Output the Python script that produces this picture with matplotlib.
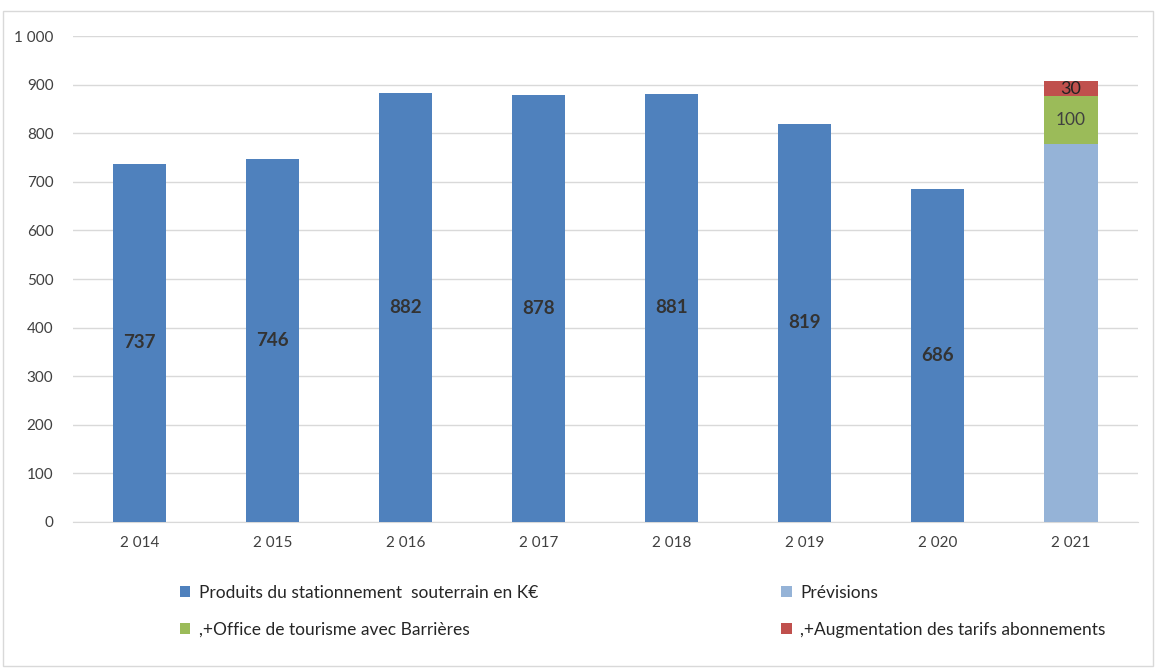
import matplotlib.pyplot as plt
from matplotlib.patches import Rectangle
from matplotlib.ticker import FuncFormatter

plt.rcParams['font.family'] = ['Lato', 'DejaVu Sans']

# Data
years = ["2 014", "2 015", "2 016", "2 017", "2 018", "2 019", "2 020", "2 021"]
produits = [737, 746, 882, 878, 881, 819, 686, None]
previsions = 777
office = 100
augmentation = 30

blue = '#4F81BD'
light_blue = '#95B3D7'
green = '#9BBB59'
red = '#C0504D'

fig = plt.figure(figsize=(11.56, 6.68), dpi=100)
ax = fig.add_axes([0.063, 0.2186, 0.921, 0.7274])

x = list(range(len(years)))
w = 0.4

hist_x = [i for i, v in enumerate(produits) if v is not None]
hist_v = [v for v in produits if v is not None]
b1 = ax.bar(hist_x, hist_v, width=w, color=blue, zorder=3,
            label="Produits du stationnement  souterrain en K€")
for xi, v in zip(hist_x, hist_v):
    ax.text(xi, v / 2, str(v), ha='center', va='center', fontsize=13.5,
            fontweight='bold', color='#333333', zorder=4)

i21 = len(years) - 1
b2 = ax.bar(i21, previsions, width=w, color=light_blue, zorder=3, label="Prévisions")
b3 = ax.bar(i21, office, bottom=previsions, width=w, color=green, zorder=3,
            label=",+Office de tourisme avec Barrières")
b4 = ax.bar(i21, augmentation, bottom=previsions + office, width=w, color=red, zorder=3,
            label=",+Augmentation des tarifs abonnements")
ax.text(i21, previsions + office / 2, str(office), ha='center', va='center',
        fontsize=12.5, color='#404040', zorder=4)
ax.text(i21, previsions + office + augmentation / 2, str(augmentation), ha='center',
        va='center', fontsize=13, color='#222222', zorder=4)

ax.set_xlim(-0.5, len(years) - 0.5)
ax.set_ylim(0, 1000)
ax.set_yticks(range(0, 1001, 100))
ax.yaxis.set_major_formatter(FuncFormatter(lambda v, p: f"{int(v):,}".replace(",", " ")))
ax.set_xticks(x)
ax.set_xticklabels(years)
ax.grid(axis='y', color='#D9D9D9', linewidth=1, zorder=0)
for s in ['top', 'right', 'left']:
    ax.spines[s].set_visible(False)
ax.spines['bottom'].set_color('#D9D9D9')
ax.tick_params(axis='both', length=0, labelsize=11, colors='#404040', pad=10)
ax.tick_params(axis='y', pad=14)

# row-wise order: matplotlib fills legend columns first
fig.legend(handles=[b1, b3, b2, b4], ncol=2, loc='upper left',
           bbox_to_anchor=(0.142, 0.148), frameon=False, fontsize=12.5,
           handlelength=0.6, handleheight=0.6, handletextpad=0.5,
           columnspacing=14.0, labelspacing=1.2, labelcolor='#262626')

fig.patches.append(Rectangle((0.003, 0.003), 0.994, 0.98, transform=fig.transFigure,
                             fill=False, edgecolor='#D9D9D9', linewidth=1))

fig.savefig('out.png', dpi=100)
